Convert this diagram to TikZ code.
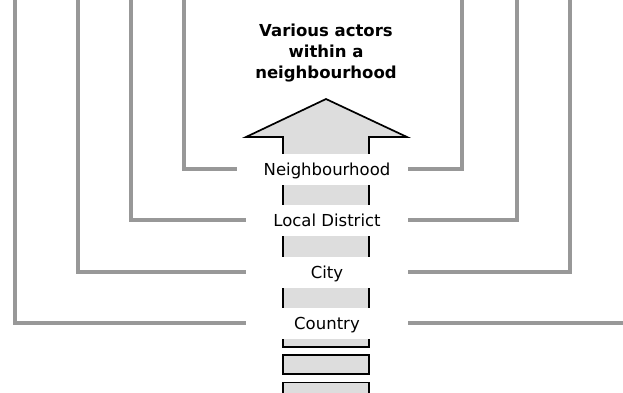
\documentclass[tikz,border=0pt]{standalone}
\usepackage{fontspec}
\setmainfont{DejaVu Sans}
\definecolor{actorgray}{RGB}{152,152,152}
\definecolor{shaftgray}{RGB}{221,221,221}

\begin{document}
\begin{tikzpicture}[x=1pt, y=-1pt,
		level line/.style={draw=actorgray, line width=3.8pt},
		level label/.style={fill=white, inner sep=0pt, minimum width=162pt, minimum height=31pt,
			text height=12pt, text depth=0pt, font=\fontsize{16.5}{20}\selectfont},
		seg box/.style={draw=black, fill=shaftgray, line width=1.7pt, minimum width=86pt,
			minimum height=19pt, inner sep=0pt},
		title/.style={align=center, inner sep=0pt, font=\fontsize{16.5}{21}\selectfont\bfseries}]
	\useasboundingbox (0,0) rectangle (623,392);
	\clip (0,0) rectangle (623,392);
	\coordinate (nbhL) at (184,-5);
	\coordinate (nbhR) at (462,-5);
	\coordinate (distL) at (131,-5);
	\coordinate (distR) at (517,-5);
	\coordinate (cityL) at (78,-5);
	\coordinate (cityR) at (570,-5);
	\coordinate (ctryL) at (15,-5);
	\coordinate (ctryR) at (630,323);
	\filldraw[fill=shaftgray, draw=black, line width=1.7pt]
		(283,347) -- (283,137) -- (246,137) -- (326,99) -- (407,137) -- (369,137) -- (369,347) -- cycle;
	\node[title] (actors) at (326,53) {Various actors\\within a\\neighbourhood};
	\node[level label] (nbh) at (327,169) {Neighbourhood};
	\node[level label] (dist) at (327,220) {Local District};
	\node[level label] (city) at (327,272) {City};
	\node[level label] (ctry) at (327,323) {Country};
	\draw[level line] ([xshift=-9pt]nbh.west) -| (nbhL);
	\draw[level line] (nbh.east) -| (nbhR);
	\draw[level line] (dist.west) -| (distL);
	\draw[level line] (dist.east) -| (distR);
	\draw[level line] (city.west) -| (cityL);
	\draw[level line] (city.east) -| (cityR);
	\draw[level line] (ctry.west) -| (ctryL);
	\draw[level line] (ctry.east) -- (ctryR);
	\node[seg box] (seg1) at (326,364.5) {};
	\node[seg box] (seg2) at (326,392) {};
\end{tikzpicture}
\end{document}
